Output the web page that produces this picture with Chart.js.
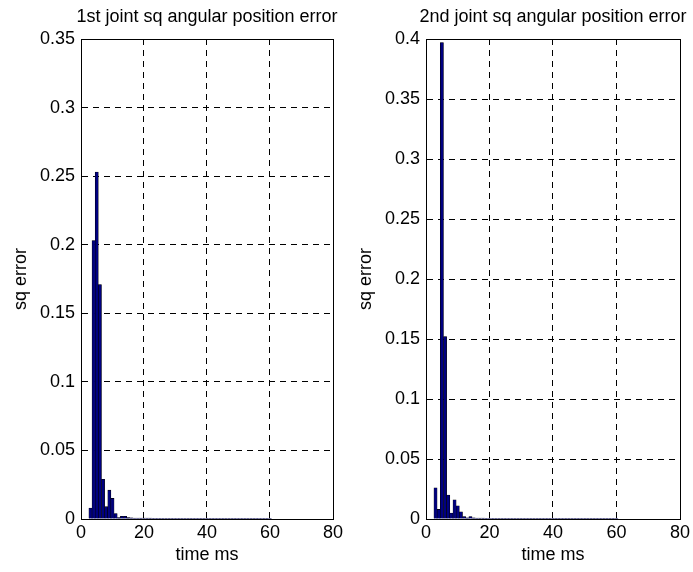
<!DOCTYPE html>
<html>
<head>
<meta charset="utf-8">
<script src="https://cdn.jsdelivr.net/npm/chart.js@4"></script>
<style>
  html, body { margin: 0; padding: 0; background: #fff; }
  #wrap { position: relative; width: 693px; height: 572px; overflow: hidden; }
  canvas { position: absolute; top: 0; }
</style>
</head>
<body>
<div id="wrap">
  <canvas id="joint1" width="346" height="572" style="left:0"></canvas>
  <canvas id="joint2" width="348" height="572" style="left:345px"></canvas>
</div>
<script>
// time samples (ms)
const times = [1, 2, 3, 4, 5, 6, 7, 8, 9, 10, 11, 12, 13, 14, 15, 16, 17, 18, 19, 20,
  21, 22, 23, 24, 25, 26, 27, 28, 29, 30, 31, 32, 33, 34, 35, 36, 37, 38, 39, 40,
  41, 42, 43, 44, 45, 46, 47, 48, 49, 50, 51, 52, 53, 54, 55, 56, 57, 58, 59, 60];

// squared angular position error, joint 1
const joint1Err = [0, 0, 0.008, 0.203, 0.253, 0.171, 0.029, 0.009, 0.021, 0.015,
  0.004, 0.001, 0.002, 0.002, 0.001, 0.0008, 0.0007, 0.0007, 0.0006, 0.0006,
  0.0006, 0.0006, 0.0005, 0.0005, 0.0005, 0.0005, 0.0005, 0.0005, 0.0005, 0.0005,
  0.0005, 0.0005, 0.0005, 0.0005, 0.0005, 0.0005, 0.0005, 0.0005, 0.0005, 0.0005,
  0.0005, 0.0005, 0.0005, 0.0005, 0.0005, 0.0005, 0.0005, 0.0005, 0.0005, 0.0005,
  0.0005, 0.0005, 0.0005, 0.0005, 0.0005, 0.0005, 0.0005, 0.0005, 0.0005, 0.0005];

// squared angular position error, joint 2
const joint2Err = [0, 0, 0.026, 0.008, 0.397, 0.152, 0.020, 0.005, 0.016, 0.011,
  0.006, 0.002, 0.001, 0.002, 0.001, 0.0008, 0.0007, 0.0007, 0.0006, 0.0006,
  0.0006, 0.0006, 0.0005, 0.0005, 0.0005, 0.0005, 0.0005, 0.0005, 0.0005, 0.0005,
  0.0005, 0.0005, 0.0005, 0.0005, 0.0005, 0.0005, 0.0005, 0.0005, 0.0005, 0.0005,
  0.0005, 0.0005, 0.0005, 0.0005, 0.0005, 0.0005, 0.0005, 0.0005, 0.0005, 0.0005,
  0.0005, 0.0005, 0.0005, 0.0005, 0.0005, 0.0005, 0.0005, 0.0005, 0.0005, 0.0005];

const titles = ['1st joint sq angular position error', '2nd joint sq angular position error'];
const yMax = [0.35, 0.4];
const xMax = 80;

const FONT = 'Liberation Sans, Arial, sans-serif';
Chart.defaults.font.family = FONT;
Chart.defaults.font.size = 18;
Chart.defaults.color = '#000';

// axes box + title over the plot area
const boxAndTitle = {
  id: 'boxAndTitle',
  afterDraw(chart, args, opts) {
    const { ctx, chartArea: a } = chart;
    ctx.save();
    ctx.strokeStyle = '#000';
    ctx.lineWidth = 1;
    ctx.strokeRect(Math.round(a.left) + 0.5, Math.round(a.top) + 0.5,
      Math.round(a.right - a.left), Math.round(a.bottom - a.top));
    ctx.fillStyle = '#000';
    ctx.font = '18px ' + FONT;
    ctx.textAlign = 'center';
    ctx.textBaseline = 'middle';
    ctx.fillText(opts.text, (a.left + a.right) / 2, 17);
    ctx.restore();
  }
};

// no dashed line on top of the solid box edges
const gridColor = (min, max) => c =>
  (c.tick && (Math.abs(c.tick.value - min) < 1e-9 || Math.abs(c.tick.value - max) < 1e-9))
    ? 'rgba(0,0,0,0)' : '#000';

function makeChart(id, values, max, title, padRight) {
  return new Chart(document.getElementById(id), {
    type: 'bar',
    data: {
      datasets: [{
        data: times.map((t, i) => ({ x: t, y: values[i] })),
        backgroundColor: '#000080',
        borderColor: '#000',
        borderWidth: 0.6,
        barPercentage: 1,
        categoryPercentage: 1
      }]
    },
    options: {
      responsive: false,
      animation: false,
      layout: { padding: { top: 39, right: padRight, left: 0, bottom: 0 } },
      plugins: {
        legend: { display: false },
        tooltip: { enabled: false },
        boxAndTitle: { text: title }
      },
      scales: {
        x: {
          type: 'linear',
          min: 0,
          max: xMax,
          offset: false,
          grid: { offset: false, color: gridColor(0, xMax), lineWidth: 1, drawTicks: false },
          border: { display: true, color: '#000', dash: [6, 5] },
          ticks: { stepSize: 20, padding: 3, maxRotation: 0 },
          title: { display: true, text: 'time ms', padding: { top: 0, bottom: 6 } },
          afterFit(scale) { scale.height = 53; }
        },
        y: {
          min: 0,
          max: max,
          grid: { color: gridColor(0, max), lineWidth: 1, drawTicks: false },
          border: { display: true, color: '#000', dash: [6, 5] },
          ticks: {
            stepSize: 0.05,
            padding: 6,
            callback: v => String(+v.toFixed(2))
          },
          title: { display: true, text: 'sq error', padding: { top: 10, bottom: 0 } },
          afterFit(scale) { scale.width = 81; }
        }
      }
    },
    plugins: [boxAndTitle]
  });
}

makeChart('joint1', joint1Err, yMax[0], titles[0], 10);
makeChart('joint2', joint2Err, yMax[1], titles[1], 13);
</script>
</body>
</html>
